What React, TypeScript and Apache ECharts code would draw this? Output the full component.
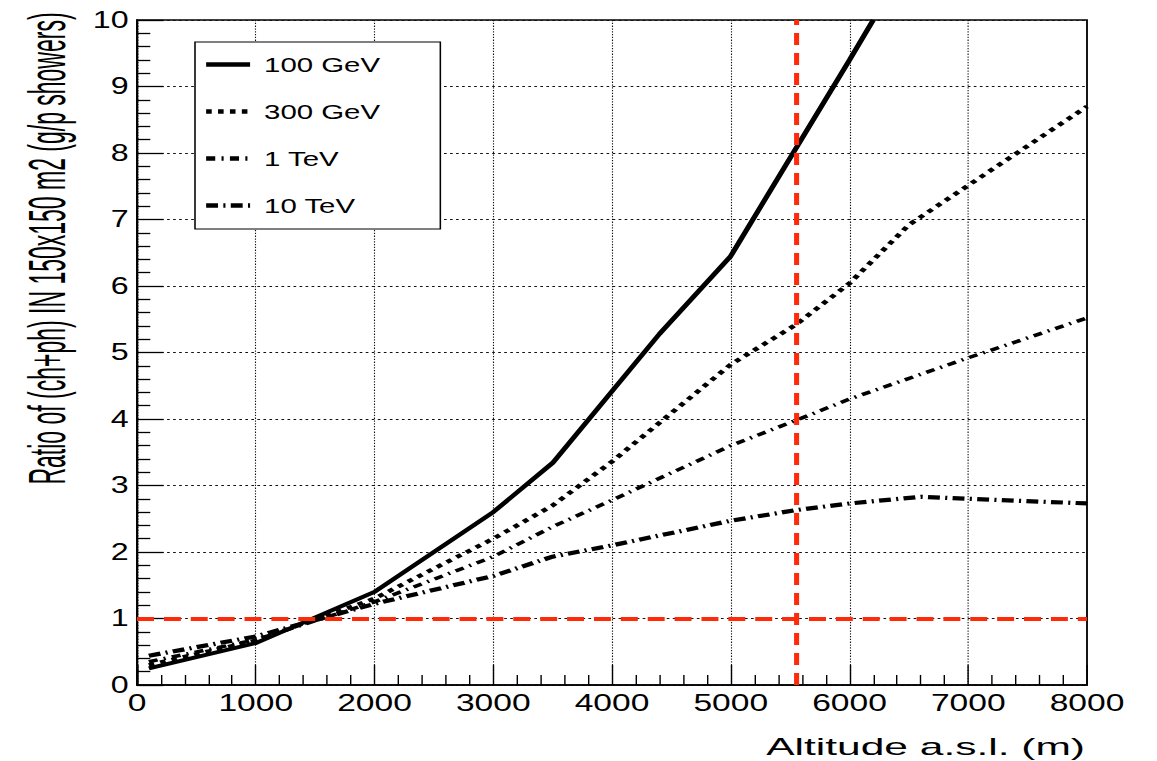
import React, { useEffect, useRef } from "react";
import * as echarts from "echarts";

// ---- data (altitude in m, ratio) ----
const seriesNames = ["100 GeV", "300 GeV", "1 TeV", "10 TeV"];

const alt100GeV = [100, 1000, 2000, 3000, 3500, 4400, 5000, 6000, 6200];
const ratio100GeV = [0.25, 0.63, 1.4, 2.6, 3.34, 5.28, 6.45, 9.4, 10.0];

const alt300GeV = [100, 1000, 2000, 3000, 3500, 4000, 5000, 5550, 6000, 6500, 8000];
const ratio300GeV = [0.3, 0.67, 1.3, 2.2, 2.7, 3.36, 4.82, 5.42, 6.04, 6.92, 8.7];

const alt1TeV = [100, 1000, 2000, 3000, 3500, 4000, 5000, 5550, 6000, 7000, 8000];
const ratio1TeV = [0.35, 0.68, 1.25, 1.93, 2.38, 2.78, 3.6, 3.98, 4.3, 4.92, 5.52];

const alt10TeV = [100, 1000, 2000, 3000, 3500, 4000, 5000, 5550, 6000, 6600, 7000, 8000];
const ratio10TeV = [0.44, 0.73, 1.22, 1.64, 1.93, 2.1, 2.47, 2.63, 2.73, 2.83, 2.8, 2.73];

const refRatio = 1;
const refAltitude = 5550;

const xTitle = "Altitude a.s.l. (m)";
const yTitle = "Ratio of (ch+ph) IN 150x150 m2 (g/p showers)";

// ---- layout ----
const STRETCH = 1.4;
const PAGE_W = 1157;
const PAGE_H = 761;
const INNER_W = PAGE_W / STRETCH;
const FONT = "'Liberation Sans', Arial, Helvetica, sans-serif";
const RED = "#ff2a0a";

const zip = (xs: number[], ys: number[]) => xs.map((x, i) => [x, ys[i]]);

export default function App() {
  const ref = useRef<HTMLDivElement>(null);

  useEffect(() => {
    if (!ref.current) return;
    const chart = echarts.init(ref.current, null, {
      renderer: "svg",
      width: INNER_W,
      height: PAGE_H,
    });

    const lineBase = { type: "line", symbol: "none", silent: true, z: 3 };

    const option: any = {
      animation: false,
      backgroundColor: "#fff",
      grid: {
        left: 137 / STRETCH,
        right: INNER_W - 1087 / STRETCH,
        top: 20,
        bottom: PAGE_H - 685,
        show: true,
        borderColor: "#000",
        borderWidth: 1.3,
        backgroundColor: "transparent",
      },
      legend: {
        data: seriesNames,
        orient: "vertical",
        left: 195 / STRETCH,
        top: 42,
        itemWidth: 31.4,
        itemHeight: 14,
        itemGap: 26,
        padding: [12, 43, 13, 5.7],
        backgroundColor: "#fff",
        borderColor: "#000",
        borderWidth: 1.1,
        borderRadius: 0,
        selectedMode: false,
        itemStyle: { opacity: 0 },
        lineStyle: { width: 4.5 },
        textStyle: {
          fontSize: 21,
          fontFamily: FONT,
          color: "#000",
          padding: [0, 0, 0, 5],
        },
      },
      xAxis: {
        type: "value",
        min: 0,
        max: 8000,
        interval: 1000,
        axisLine: { onZero: false, lineStyle: { color: "#000", width: 1.5 } },
        axisTick: { inside: true, length: 20, lineStyle: { color: "#000", width: 1 } },
        minorTick: { show: true, splitNumber: 5, length: 10, lineStyle: { color: "#000", width: 1 } },
        splitLine: { show: true, lineStyle: { color: "#111", width: 0.8, type: [1.3, 1.5] } },
        axisLabel: {
          fontSize: 24,
          fontFamily: FONT,
          color: "#000",
          margin: 6,
          formatter: (v: number) => String(v),
        },
      },
      yAxis: {
        type: "value",
        min: 0,
        max: 10,
        interval: 1,
        axisLine: { onZero: false, lineStyle: { color: "#000", width: 1.5 } },
        axisTick: { inside: true, length: 19, lineStyle: { color: "#000", width: 1.3 } },
        minorTick: { show: true, splitNumber: 5, length: 9.5, lineStyle: { color: "#000", width: 1.3 } },
        splitLine: { show: true, lineStyle: { color: "#111", width: 1.2, type: [1.9, 2.4] } },
        axisLabel: {
          fontSize: 23,
          fontFamily: FONT,
          color: "#000",
          margin: 6,
          formatter: (v: number) => String(v),
        },
      },
      graphic: [
        {
          type: "text",
          x: 1085 / STRETCH,
          y: 747,
          scaleX: 1.32,
          silent: true,
          style: {
            text: xTitle,
            fontSize: 23,
            fontFamily: FONT,
            fill: "#000",
            align: "right",
            verticalAlign: "middle",
          },
        },
        {
          type: "text",
          x: 47 / STRETCH,
          y: 248.5,
          rotation: Math.PI / 2,
          scaleY: 1.6,
          silent: true,
          style: {
            text: yTitle,
            fontSize: 23,
            fontFamily: FONT,
            fill: "#000",
            align: "center",
            verticalAlign: "middle",
          },
        },
      ],
      series: [
        {
          ...lineBase,
          name: seriesNames[0],
          data: zip(alt100GeV, ratio100GeV),
          lineStyle: { color: "#000", width: 3.9, type: "solid" },
          itemStyle: { color: "#000" },
          markLine: {
            silent: true,
            symbol: ["none", "none"],
            label: { show: false },
            z: 5,
            data: [
              { yAxis: refRatio, lineStyle: { color: RED, width: 4, type: [12.1, 7.1] } },
              { xAxis: refAltitude, lineStyle: { color: RED, width: 3.6, type: [12, 8] } },
            ],
          },
        },
        {
          ...lineBase,
          name: seriesNames[1],
          data: zip(alt300GeV, ratio300GeV),
          lineStyle: { color: "#000", width: 4, type: [4, 4.5] },
          itemStyle: { color: "#000" },
        },
        {
          ...lineBase,
          name: seriesNames[2],
          data: zip(alt1TeV, ratio1TeV),
          lineStyle: { color: "#000", width: 3.5, type: [6.5, 4.5, 1.5, 4.5] },
          itemStyle: { color: "#000" },
        },
        {
          ...lineBase,
          name: seriesNames[3],
          data: zip(alt10TeV, ratio10TeV),
          lineStyle: { color: "#000", width: 4.2, type: [8.5, 3.8, 1.5, 3.8] },
          itemStyle: { color: "#000" },
        },
      ],
    };

    chart.setOption(option);
    return () => chart.dispose();
  }, []);

  return (
    <div
      ref={ref}
      style={{
        position: "fixed",
        left: 0,
        top: 0,
        width: INNER_W,
        height: PAGE_H,
        transform: `scaleX(${STRETCH})`,
        transformOrigin: "0 0",
        background: "#fff",
      }}
    />
  );
}
